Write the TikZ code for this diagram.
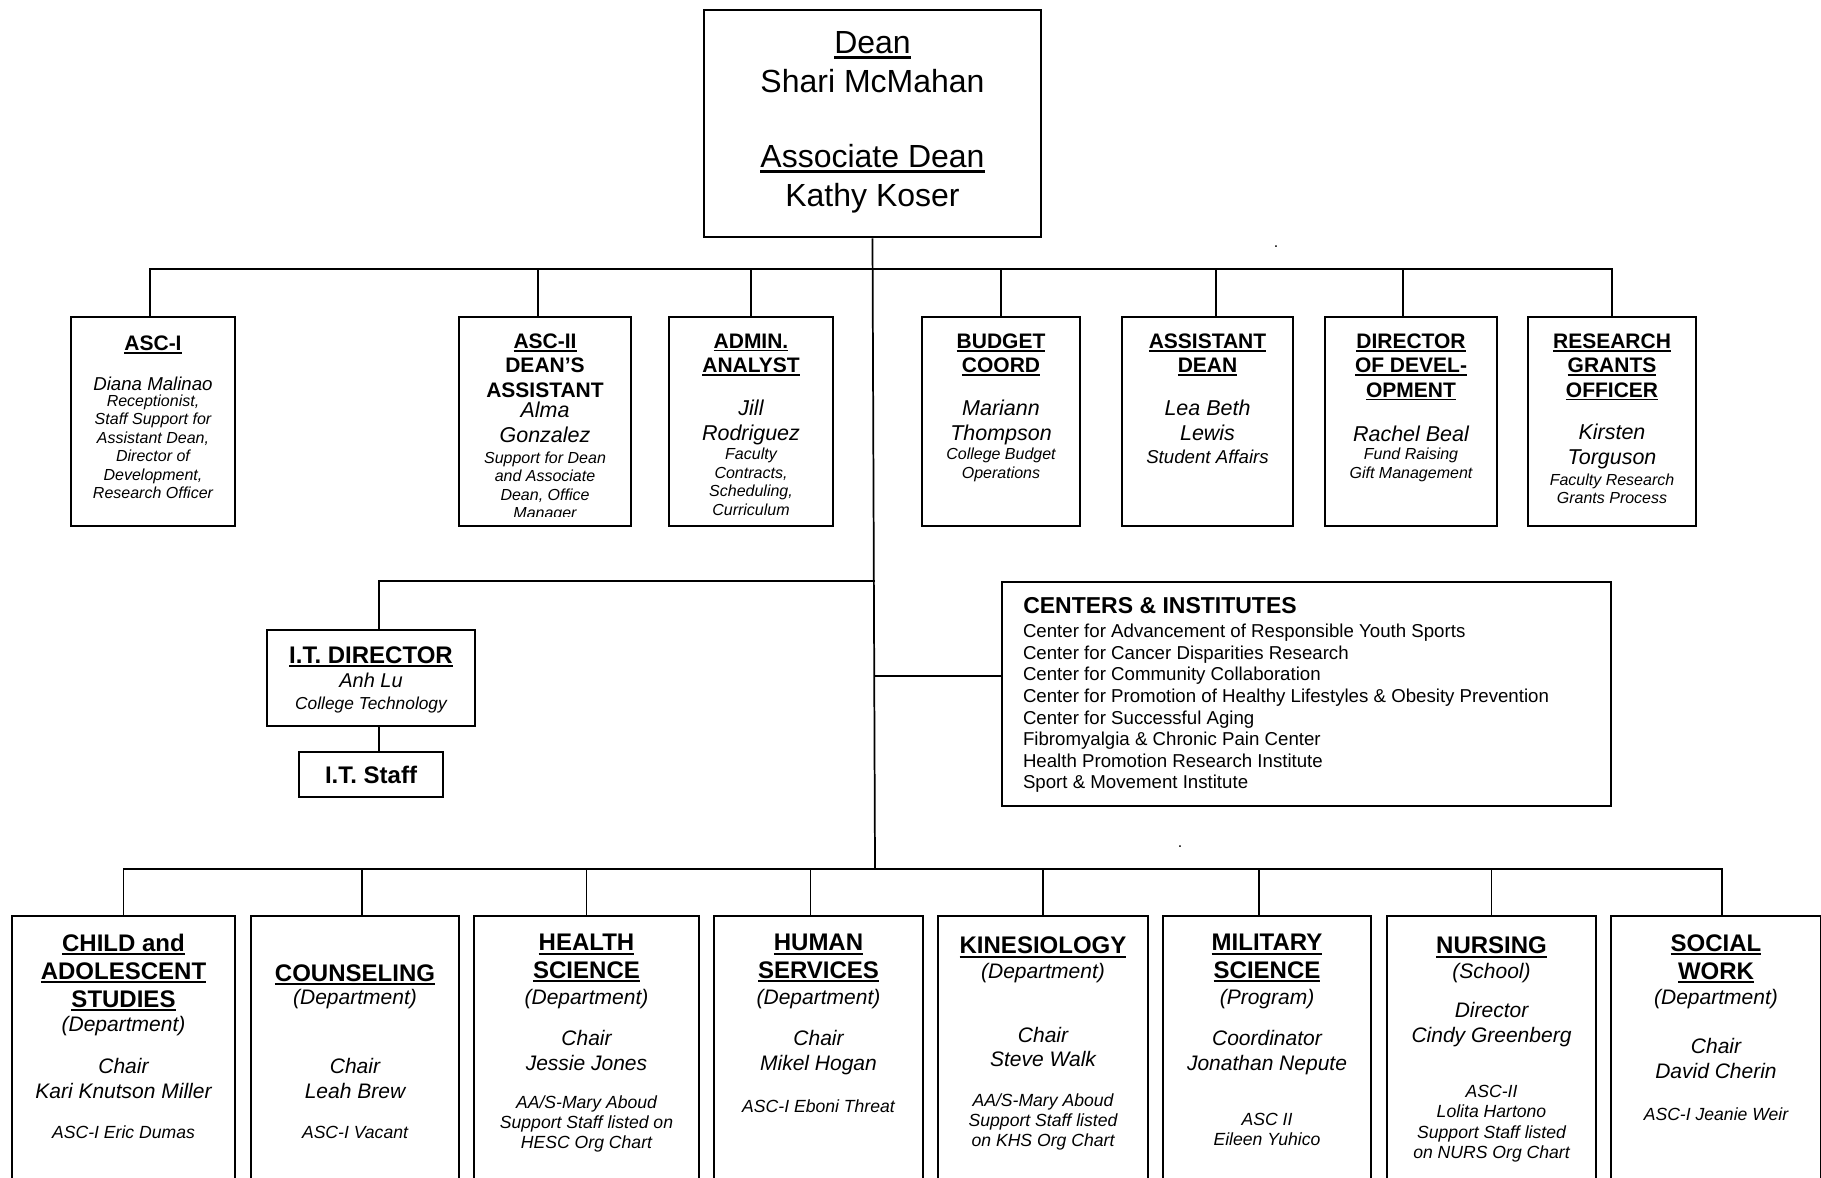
\documentclass[tikz,border=0pt]{standalone}
\usepackage{fontspec}
\setmainfont{Liberation Sans}
% underline drawn as a rule slightly below the baseline
\newcommand\uln[1]{\setbox0\hbox{#1}\rlap{\rule[-0.15em]{\wd0}{0.08em}}\box0}
% rectangle given by its corners in pixel units
\newcommand\orgbox[5]{\node[box, minimum width={(#4-#2)*0.75pt}, minimum height={(#5-#3)*0.75pt}] (#1) at ({(#2+#4)/2},{(#3+#5)/2}) {};}
\tikzset{
  box/.style={draw, line width=1.9pt, inner sep=0pt, fill=white},
  link/.style={line width=1.3pt},
  % text block: size, baselineskip, shape; placed by the centre of its first line
  tx/.style n args={3}{font={\fontsize{#1pt}{#2pt}\selectfont#3}, align=center,
    inner sep=0pt, outer sep=0pt, anchor=north, yshift={0.7*#2pt-0.5*#1pt},
    execute at begin node={\rule{0pt}{\dimexpr#2pt*7/10\relax}}},
  deanst/.style={tx={24}{29}{}},
  hdtwo/.style={tx={15.75}{18.3}{\bfseries}},
  nmtwo/.style={tx={16.1}{18.75}{\itshape}},
  dstwo/.style={tx={12}{13.9}{\itshape}},
  mdtwo/.style={tx={14}{16.2}{\itshape}},
  bhead/.style={tx={18}{20.9}{\bfseries}},
  bname/.style={tx={15.75}{18.4}{\itshape}},
  bsub/.style={tx={13.2}{15.2}{\itshape}},
}
\begin{document}
\begin{tikzpicture}[x=0.75pt,y=-0.75pt]
\useasboundingbox (0,0) rectangle (1821,1178);
\fill[white] (0,0) rectangle (1821,1178);
\clip (0,0) rectangle (1821,1178);

% ---- junction points on the trunk
\coordinate (topbus) at (875,269);
\coordinate (itbus) at (875,581);
\coordinate (cibus) at (875,676);
\coordinate (botbus) at (875,869);

% ---- boxes
\orgbox{dean}{704}{10}{1041}{237}
\orgbox{asci}{71}{317}{235}{526}
\orgbox{ascii}{459}{317}{631}{526}
\orgbox{admin}{669}{317}{833}{526}
\orgbox{budget}{922}{317}{1080}{526}
\orgbox{astdean}{1122}{317}{1293}{526}
\orgbox{dirdev}{1325}{317}{1497}{526}
\orgbox{rgo}{1528}{317}{1696}{526}
\orgbox{itdir}{267}{630}{475}{726}
\node[box, minimum width=108pt, minimum height=33.75pt,
      font=\fontsize{18pt}{21pt}\selectfont\bfseries] (itstaff) at (371,774.5) {I.T. Staff};
\orgbox{centers}{1002}{582}{1611}{806}
\orgbox{child}{12}{916}{235}{1215}
\orgbox{couns}{251}{916}{459}{1215}
\orgbox{hesc}{474}{916}{699}{1215}
\orgbox{hums}{714}{916}{923}{1215}
\orgbox{kin}{938}{916}{1148}{1215}
\orgbox{mil}{1163}{916}{1371}{1215}
\orgbox{nurs}{1387}{916}{1596}{1215}
\orgbox{sowk}{1611}{916}{1821}{1215}

% ---- connectors
\draw[link] (dean.south) -- (botbus);
\draw[link] ([xshift=-2.25pt]asci.north) |- (topbus);
\draw[link] ([xshift=-5.25pt]ascii.north) |- (topbus);
\draw[link] (admin.north) |- (topbus);
\draw[link] (budget.north) |- (topbus);
\draw[link] ([xshift=6.4pt]astdean.north) |- (topbus);
\draw[link] ([xshift=-6pt]dirdev.north) |- (topbus);
\draw[link] (rgo.north) |- (topbus);
\draw[link] ([xshift=6pt]itdir.north) |- (itbus);
\draw[link] ([xshift=6pt]itdir.south) -- ([xshift=6pt]itstaff.north);
\draw[link] (cibus) -- (cibus -| centers.west);
\draw[link] (child.north) |- (botbus);
\draw[link] ([xshift=5.5pt]couns.north) |- (botbus);
\draw[link] (hesc.north) |- (botbus);
\draw[link] ([xshift=-6pt]hums.north) |- (botbus);
\draw[link] (kin.north) |- (botbus);
\draw[link] ([xshift=-6pt]mil.north) |- (botbus);
\draw[link] (nurs.north) |- (botbus);
\draw[link] ([xshift=4.5pt]sowk.north) |- (botbus);

% ---- dean
\node[deanst] (dean-t) at (872.5,43) {\uln{Dean}\\Shari McMahan};
\node[deanst] (assoc-t) at (872.5,155.6) {\uln{Associate Dean}\\Kathy Koser};

% ---- staff row
\node[hdtwo] (asci-t) at (153,340.3) {\uln{ASC-I}};
\node[mdtwo] (asci-n) at (153,381) {Diana Malinao};
\node[dstwo] (asci-d) at (153,399.5) {Receptionist,\\Staff Support for\\Assistant Dean,\\Director of\\Development,\\Research Officer};

\node[hdtwo] (ascii-t) at (545,340.3) {\uln{ASC-II}\\DEAN’S\\ASSISTANT};
\node[nmtwo] (ascii-n) at (545,409) {Alma\\Gonzalez};
\begin{scope}
\clip (459,317) rectangle (631,516);
\node[dstwo] (ascii-d) at (545,456.5) {Support for Dean\\and Associate\\Dean, Office\\Manager};
\end{scope}

\node[hdtwo] (admin-t) at (751,340.3) {\uln{ADMIN.}\\\uln{ANALYST}};
\node[nmtwo] (admin-n) at (751,406.6) {Jill\\Rodriguez};
\node[dstwo] (admin-d) at (751,453) {Faculty\\Contracts,\\Scheduling,\\Curriculum};

\node[hdtwo] (budget-t) at (1001,340.3) {\uln{BUDGET}\\\uln{COORD}};
\node[nmtwo] (budget-n) at (1001,406.6) {Mariann\\Thompson};
\node[dstwo] (budget-d) at (1001,453) {College Budget\\Operations};

\node[hdtwo] (astdean-t) at (1207.5,340.3) {\uln{ASSISTANT}\\\uln{DEAN}};
\node[nmtwo] (astdean-n) at (1207.5,406.6) {Lea Beth\\Lewis};
\node[mdtwo] (astdean-d) at (1207.5,454) {Student Affairs};

\node[hdtwo] (dirdev-t) at (1411,340.3) {\uln{DIRECTOR}\\\uln{OF DEVEL-}\\\uln{OPMENT}};
\node[nmtwo] (dirdev-n) at (1411,431) {Rachel Beal};
\node[dstwo] (dirdev-d) at (1411,453) {Fund Raising\\Gift Management};

\node[hdtwo] (rgo-t) at (1612,340.3) {\uln{RESEARCH}\\\uln{GRANTS}\\\uln{OFFICER}};
\node[nmtwo] (rgo-n) at (1612,431) {Kirsten\\Torguson};
\node[dstwo] (rgo-d) at (1612,478.5) {Faculty Research\\Grants Process};

% ---- I.T.
\node[tx={18}{21}{\bfseries}] (itdir-t) at (371,651) {\uln{I.T. DIRECTOR}};
\node[tx={15}{17.5}{\itshape}] (itdir-n) at (371,677) {Anh Lu};
\node[tx={13}{15}{\itshape}] (itdir-d) at (371,700.5) {College Technology};

% ---- centers and institutes
\node[font=\fontsize{17.25pt}{20pt}\selectfont\bfseries, anchor=base west, inner sep=0pt] (ci-t) at (1023,613) {CENTERS \& INSTITUTES};
\node[tx={14}{16.2}{}, align=left, anchor=north west] (ci-l) at (1023,630) {Center for Advancement of Responsible Youth Sports\\Center for Cancer Disparities Research\\Center for Community Collaboration\\Center for Promotion of Healthy Lifestyles \& Obesity Prevention\\Center for Successful Aging\\Fibromyalgia \& Chronic Pain Center\\Health Promotion Research Institute\\Sport \& Movement Institute};

% ---- departments
\node[bhead] (child-t) at (123.5,941.9) {\uln{CHILD and}\\\uln{ADOLESCENT}\\\uln{STUDIES}};
\node[bname] (child-k) at (123.5,1021) {(Department)};
\node[bname] (child-n) at (123.5,1065) {Chair\\Kari Knutson Miller};
\node[bsub] (child-s) at (123.5,1130) {ASC-I Eric Dumas};

\node[bhead] (couns-t) at (355,969.8) {\uln{COUNSELING}};
\node[bname] (couns-k) at (355,994) {(Department)};
\node[bname] (couns-n) at (355,1065) {Chair\\Leah Brew};
\node[bsub] (couns-s) at (355,1130) {ASC-I Vacant};

\node[bhead] (hesc-t) at (586.5,941.9) {\uln{HEALTH}\\\uln{SCIENCE}};
\node[bname] (hesc-k) at (586.5,994) {(Department)};
\node[bname] (hesc-n) at (586.5,1037) {Chair\\Jessie Jones};
\node[bsub] (hesc-s) at (586.5,1101) {AA/S-Mary Aboud\\Support Staff listed on\\HESC Org Chart};

\node[bhead] (hums-t) at (818.5,941.9) {\uln{HUMAN}\\\uln{SERVICES}};
\node[bname] (hums-k) at (818.5,994) {(Department)};
\node[bname] (hums-n) at (818.5,1037) {Chair\\Mikel Hogan};
\node[bsub] (hums-s) at (818.5,1103.5) {ASC-I Eboni Threat};

\node[bhead] (kin-t) at (1043,941.9) {\uln{KINESIOLOGY}};
\node[bname] (kin-k) at (1043,967.5) {(Department)};
\node[bname] (kin-n) at (1043,1033.5) {Chair\\Steve Walk};
\node[bsub] (kin-s) at (1043,1099) {AA/S-Mary Aboud\\Support Staff listed\\on KHS Org Chart};

\node[bhead] (mil-t) at (1267,941.9) {\uln{MILITARY}\\\uln{SCIENCE}};
\node[bname] (mil-k) at (1267,994) {(Program)};
\node[bname] (mil-n) at (1267,1037) {Coordinator\\Jonathan Nepute};
\node[bsub] (mil-s) at (1267,1118.5) {ASC II\\Eileen Yuhico};

\node[bhead] (nurs-t) at (1491.5,941.9) {\uln{NURSING}};
\node[bname] (nurs-k) at (1491.5,967.5) {(School)};
\node[bname] (nurs-n) at (1491.5,1009) {Director\\Cindy Greenberg};
\node[bsub] (nurs-s) at (1491.5,1090.7) {ASC-II\\Lolita Hartono\\Support Staff listed\\on NURS Org Chart};

\node[bhead] (sowk-t) at (1716,941.9) {\uln{SOCIAL}\\\uln{WORK}};
\node[bname] (sowk-k) at (1716,994) {(Department)};
\node[bname] (sowk-n) at (1716,1045) {Chair\\David Cherin};
\node[bsub] (sowk-s) at (1716,1111.5) {ASC-I Jeanie Weir};

% ---- stray full stops
\node[font=\fontsize{12pt}{14pt}\selectfont, inner sep=0pt] (dotA) at (1276,247) {.};
\node[font=\fontsize{12pt}{14pt}\selectfont, inner sep=0pt] (dotB) at (1180,847) {.};
\end{tikzpicture}
\end{document}
